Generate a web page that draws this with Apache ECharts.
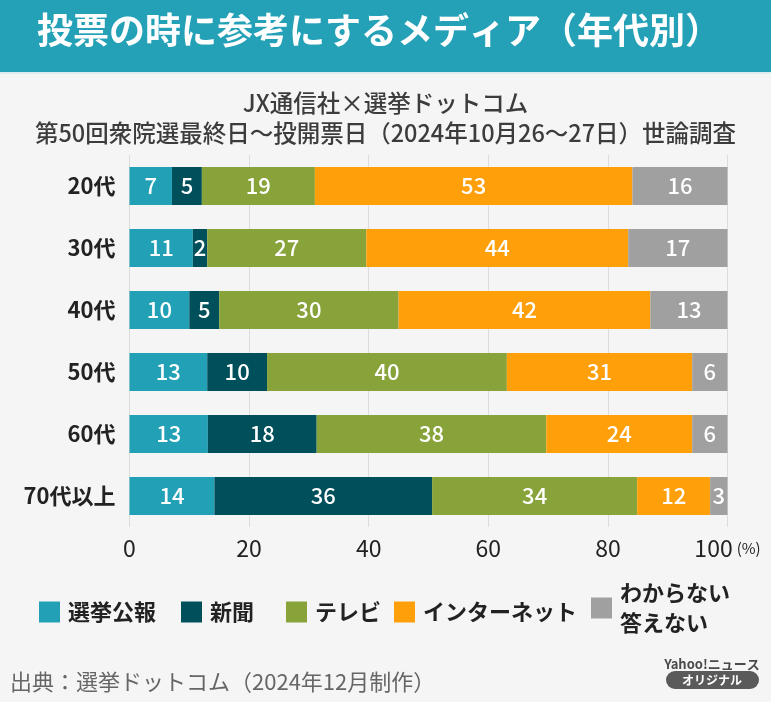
<!DOCTYPE html>
<html>
<head>
<meta charset="utf-8">
<script src="https://cdn.jsdelivr.net/npm/echarts@6/dist/echarts.min.js"></script>
<style>
html,body{margin:0;padding:0;background:#f5f5f5;}
#c{width:771px;height:702px;}
</style>
</head>
<body>
<div id="c"></div>
<script>
// ---- data (percent) ----
const categories = ['20代', '30代', '40代', '50代', '60代', '70代以上'];
const seriesNames = ['選挙公報', '新聞', 'テレビ', 'インターネット', 'わからない答えない'];
const koho     = [7.1, 10.6, 10.0, 13.0, 13.1, 14.2];
const shinbun  = [5.0, 2.4, 5.0, 10.0, 18.2, 36.4];
const tv       = [18.9, 26.6, 30.0, 40.1, 38.4, 34.3];
const internet = [53.1, 43.8, 42.1, 31.0, 24.4, 12.2];
const unknown  = [15.9, 16.6, 12.9, 5.9, 5.9, 2.9];
const xTicks = [0, 20, 40, 60, 80, 100];

const colors = ['#22a1b6', '#00505c', '#88a33a', '#ffa00b', '#a0a0a0'];
const FONT = '"Noto Sans CJK JP", "Noto Sans", sans-serif';

const chart = echarts.init(document.getElementById('c'), null, {renderer: 'canvas'});

const allData = [koho, shinbun, tv, internet, unknown];
const series = allData.map((d, i) => ({
  name: seriesNames[i],
  type: 'bar',
  stack: 'total',
  barWidth: 38,
  data: d,
  itemStyle: {color: colors[i]},
  label: {
    show: true,
    position: 'inside',
    color: '#fff',
    fontSize: 22,
    fontWeight: 500,
    fontFamily: FONT,
    formatter: p => String(Math.round(p.value))
  },
  emphasis: {disabled: true}
}));

const legendLefts = [39, 181, 286, 394, 591];
const legends = seriesNames.map((n, i) => ({
  data: [n],
  left: legendLefts[i],
  top: i === 4 ? 578 : 597,
  padding: 0,
  itemGap: 0,
  itemWidth: 21,
  itemHeight: 21,
  icon: 'rect',
  selectedMode: false,
  formatter: name => name === 'わからない答えない' ? 'わからない\n答えない' : name,
  textStyle: {
    fontSize: 22, fontWeight: 'bold', color: '#222', fontFamily: FONT,
    lineHeight: 30, padding: [0, 0, 0, 3]
  }
}));

chart.setOption({
  backgroundColor: '#f5f5f5',
  animation: false,
  color: colors,
  title: [
    {
      text: '投票の時に参考にするメディア（年代別）',
      left: 37, top: 12, padding: 0,
      textStyle: {color: '#fff', fontSize: 36, fontWeight: 'bold', fontFamily: FONT}
    },
    {
      text: 'JX通信社×選挙ドットコム\n第50回衆院選最終日～投開票日（2024年10月26～27日）世論調査',
      left: 'center', top: 88, padding: 0,
      textStyle: {color: '#3c3c3c', fontSize: 23.5, fontWeight: 500, fontFamily: FONT, lineHeight: 30}
    },
    {
      text: '出典：選挙ドットコム（2024年12月制作）',
      left: 10, top: 671, padding: 0,
      textStyle: {color: '#666', fontSize: 22, fontWeight: 'normal', fontFamily: FONT}
    }
  ],
  legend: legends,
  grid: {left: 129.5, right: 43.5, top: 155, bottom: 175, containLabel: false},
  xAxis: {
    type: 'value',
    min: xTicks[0], max: xTicks[xTicks.length - 1], interval: 20,
    axisLine: {show: false},
    axisTick: {show: false},
    splitLine: {show: true, lineStyle: {color: '#dcdcdc', width: 1}},
    axisLabel: {
      color: '#222', fontSize: 23, fontFamily: FONT, margin: 10,
      formatter: v => v === 100 ? '100{p|(%)}' : String(v),
      rich: {p: {fontSize: 15, color: '#222', fontFamily: FONT, padding: [0, 0, 0, 4]}}
    }
  },
  yAxis: {
    type: 'category',
    inverse: true,
    data: categories,
    axisLine: {show: false},
    axisTick: {show: false},
    axisLabel: {color: '#222', fontSize: 22, fontWeight: 'bold', fontFamily: FONT, margin: 14}
  },
  graphic: [
    {type: 'rect', z: -1, shape: {x: 0, y: 0, width: 771, height: 72}, style: {fill: '#24a1b6'}},
    {type: 'rect', z: -1, shape: {x: 0, y: 72, width: 771, height: 2}, style: {fill: '#dcecef'}},
    {type: 'text', x: 712, y: 664, style: {text: 'Yahoo!ニュース', fill: '#4a4a4a', font: 'bold 13px ' + FONT, align: 'center', verticalAlign: 'middle'}},
    {type: 'rect', shape: {x: 666, y: 671, width: 93, height: 18, r: 9}, style: {fill: '#5a5a5a'}},
    {type: 'text', x: 712, y: 680, style: {text: 'オリジナル', fill: '#fff', font: 'bold 12px ' + FONT, align: 'center', verticalAlign: 'middle'}}
  ],
  series: series
});
</script>
</body>
</html>
